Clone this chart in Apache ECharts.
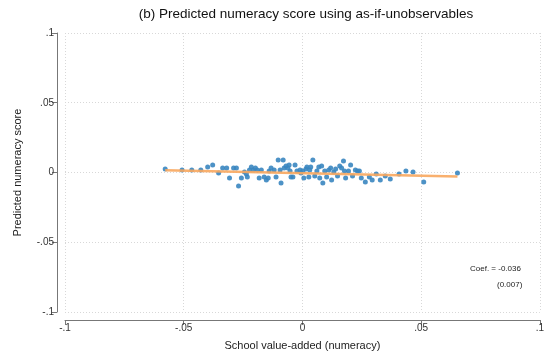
<!DOCTYPE html>
<html><head><meta charset="utf-8">
<script src="https://cdn.jsdelivr.net/npm/echarts@6/dist/echarts.min.js"></script>
<style>html,body{margin:0;padding:0;background:#fff}#c{width:547px;height:356px}</style>
</head><body><div id="c"></div>
<script>
const titleText = "(b) Predicted numeracy score using as-if-unobservables";
const xAxisName = "School value-added (numeracy)";
const yAxisName = "Predicted numeracy score";
const xTicks = [-0.1, -0.05, 0, 0.05, 0.1];
const yTicks = [-0.1, -0.05, 0, 0.05, 0.1];
const tickLabels = {"-0.1": "-.1", "-0.05": "-.05", "0": "0", "0.05": ".05", "0.1": ".1"};
const coefText = "Coef. = -0.036";
const seText = "(0.007)";

const schoolVA = [
 -0.0578,-0.0507,-0.0466,-0.0428,-0.0399,-0.0378,-0.0353,-0.0336,-0.0319,-0.0307,
 -0.0290,-0.0278,-0.0269,-0.0257,-0.0244,-0.0236,-0.0232,-0.0223,-0.0215,-0.0207,
 -0.0198,-0.0190,-0.0182,-0.0173,-0.0161,-0.0152,-0.0144,-0.0140,-0.0132,-0.0119,
 -0.0111,-0.0102,-0.0094,-0.0090,-0.0081,-0.0077,-0.0069,-0.0061,-0.0056,-0.0052,
 -0.0048,-0.0040,-0.0031,-0.0023,-0.0010,-0.0006,0.0002,0.0006,0.0015,0.0019,
 0.0027,0.0031,0.0035,0.0044,0.0052,0.0061,0.0069,0.0073,0.0081,0.0086,
 0.0094,0.0102,0.0111,0.0119,0.0123,0.0132,0.0140,0.0148,0.0157,0.0165,
 0.0173,0.0177,0.0182,0.0194,0.0203,0.0211,0.0223,0.0232,0.0240,0.0248,
 0.0265,0.0282,0.0294,0.0311,0.0328,0.0349,0.0370,0.0407,0.0436,0.0466,
 0.0511,0.0653
];
const predScore = [
 0.0025,0.0018,0.0018,0.0018,0.0039,0.0054,-0.0004,0.0032,0.0032,-0.0039,
 0.0032,0.0032,-0.0096,-0.0039,0.0004,-0.0011,-0.0032,0.0018,0.0039,0.0018,
 0.0032,0.0018,-0.0039,0.0018,-0.0032,-0.0054,-0.0039,0.0011,0.0032,0.0018,
 -0.0032,0.0089,0.0018,-0.0075,0.0089,0.0032,0.0046,0.0032,0.0054,0.0011,
 -0.0032,-0.0032,0.0054,0.0011,0.0018,-0.0004,0.0011,-0.0039,0.0025,0.0039,
 -0.0032,0.0018,0.0039,0.0089,-0.0025,0.0011,0.0039,-0.0039,0.0046,-0.0075,
 0.0011,-0.0032,0.0018,0.0032,-0.0054,0.0004,0.0025,-0.0025,0.0046,0.0032,
 0.0082,0.0011,-0.0039,0.0011,0.0054,-0.0025,0.0018,0.0011,0.0011,-0.0039,
 -0.0068,-0.0032,-0.0054,-0.0011,-0.0054,-0.0025,-0.0046,-0.0011,0.0011,0.0004,
 -0.0068,-0.0004
];
const fitX = [-0.0578, 0.0653];
const fitY = [0.0017, -0.0028];

const FONT = "'Liberation Sans', Arial, Helvetica, sans-serif";
const chart = echarts.init(document.getElementById('c'), null, {renderer: 'canvas'});
const fmt = v => tickLabels[String(Math.round(v * 100) / 100)] ?? String(v);

chart.setOption({
  animation: false,
  backgroundColor: '#fff',
  title: {
    text: titleText, left: 301, top: 2, textAlign: 'center',
    textStyle: {fontFamily: FONT, fontSize: 13.5, fontWeight: 'normal', color: '#111'}
  },
  grid: {left: 65, right: 3, top: 33, bottom: 44},
  xAxis: {
    type: 'value', min: xTicks[0], max: xTicks[xTicks.length - 1], interval: 0.05,
    offset: 8,
    name: xAxisName, nameLocation: 'middle', nameGap: 20,
    nameTextStyle: {fontFamily: FONT, fontSize: 11, color: '#222'},
    axisLine: {show: true, onZero: false, lineStyle: {color: '#777', width: 1}},
    axisTick: {show: true, length: 5, lineStyle: {color: '#777'}},
    axisLabel: {fontFamily: FONT, fontSize: 10, color: '#333', margin: 3, formatter: fmt},
    splitLine: {show: true, lineStyle: {color: '#d8d8d8', type: [1, 2], width: 1}}
  },
  yAxis: {
    type: 'value', min: yTicks[0], max: yTicks[yTicks.length - 1], interval: 0.05,
    offset: 8,
    name: yAxisName, nameLocation: 'middle', nameGap: 34,
    nameTextStyle: {fontFamily: FONT, fontSize: 11, color: '#222'},
    axisLine: {show: true, onZero: false, lineStyle: {color: '#777', width: 1}},
    axisTick: {show: true, length: 5, lineStyle: {color: '#777'}},
    axisLabel: {fontFamily: FONT, fontSize: 10, color: '#333', margin: 3, formatter: fmt},
    splitLine: {show: true, lineStyle: {color: '#d8d8d8', type: [1, 2], width: 1}}
  },
  series: [
    {
      type: 'scatter', symbol: 'circle', symbolSize: 5,
      data: schoolVA.map((x, i) => [x, predScore[i]]),
      itemStyle: {color: '#3a86c0', opacity: 0.9},
      z: 2
    },
    {
      type: 'line', symbol: 'none',
      data: fitX.map((x, i) => [x, fitY[i]]),
      lineStyle: {color: '#f8a75e', width: 2.5, opacity: 0.9},
      z: 3
    }
  ],
  graphic: [
    {type: 'text', left: 470, top: 265, style: {text: coefText, font: '8px ' + FONT, fill: '#222'}},
    {type: 'text', left: 497, top: 281, style: {text: seText, font: '8px ' + FONT, fill: '#222'}}
  ]
});
</script>
</body></html>
